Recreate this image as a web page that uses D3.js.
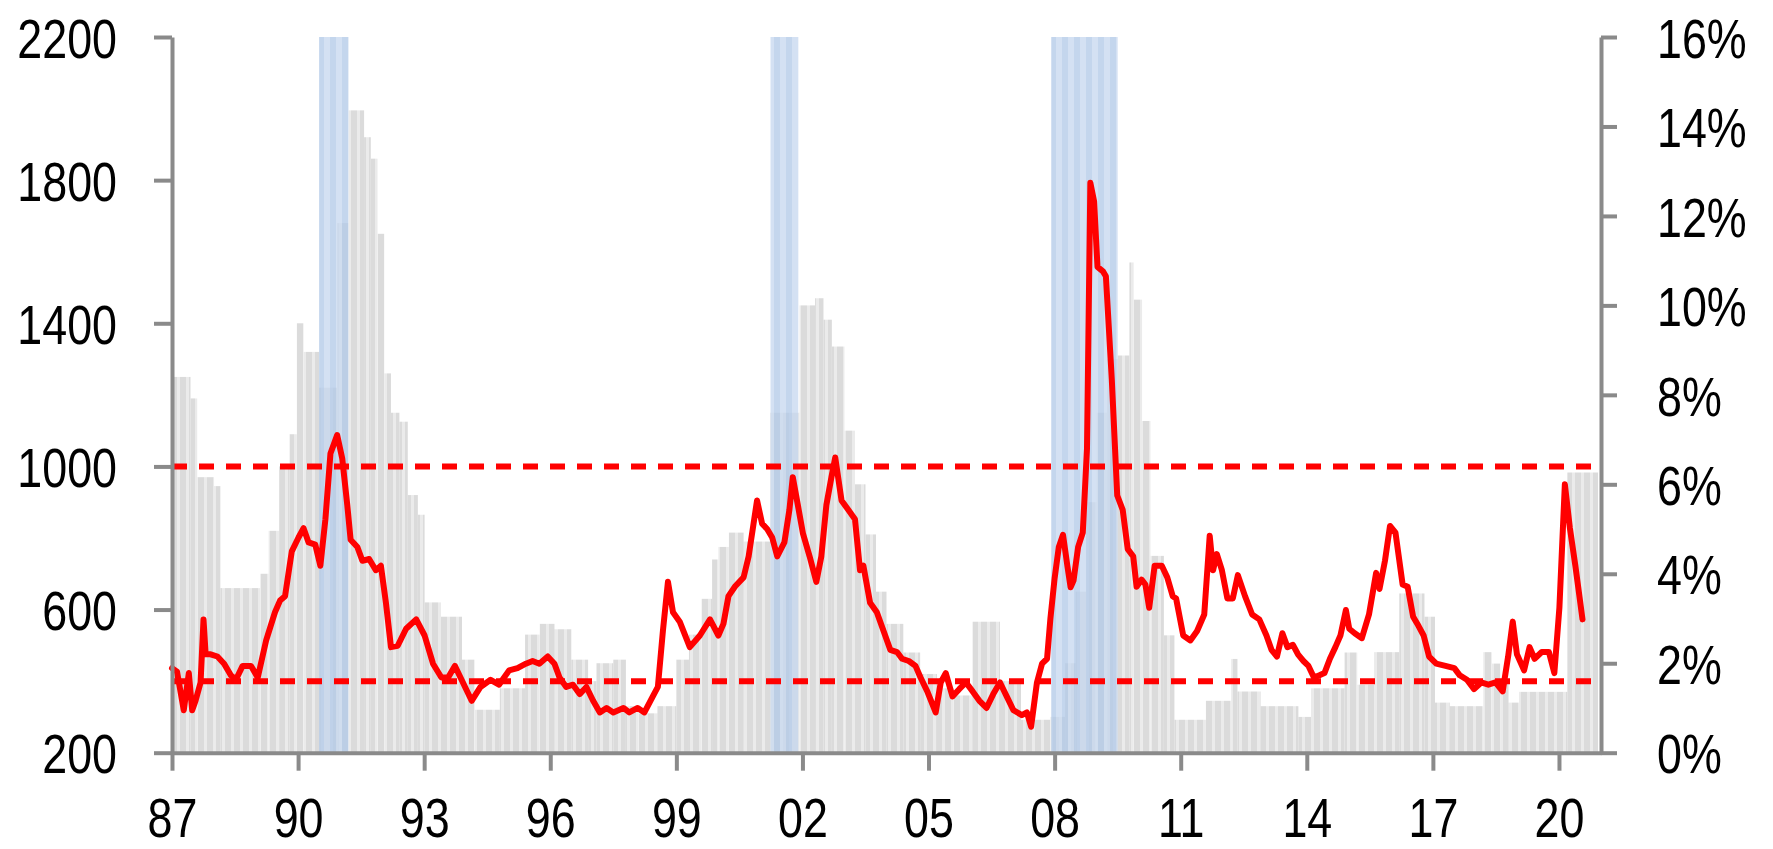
<!DOCTYPE html>
<html><head><meta charset="utf-8">
<script src="https://cdnjs.cloudflare.com/ajax/libs/d3/7.8.5/d3.min.js"></script>
<style>body{margin:0;background:#fff;overflow:hidden}</style>
</head><body><svg id="chart" width="1773" height="849"></svg>
<script>
// ---------- DATA ----------
const xTickYears = [1987,1990,1993,1996,1999,2002,2005,2008,2011,2014,2017,2020];
const xTickLabels = ["87","90","93","96","99","02","05","08","11","14","17","20"];
const leftTicks = [200,600,1000,1400,1800,2200];
const rightTicks = [0,2,4,6,8,10,12,14,16];
const rightTickLabels = ["0%","2%","4%","6%","8%","10%","12%","14%","16%"];
const thresholdLevels = [1000, 400];          // dashed lines, left-axis units
const recessionStarts = [1990.50, 2001.24, 2007.92];
const recessionEnds   = [1991.20, 2001.90, 2009.50];

// grey bars (left axis): step start dates and values
const barStarts = [1987.00,1987.44,1987.60,1988.00,1988.15,1989.10,1989.30,1989.55,1989.80,
  1989.97,1990.13,1990.50,1990.93,1991.20,1991.57,1991.73,1991.89,1992.05,1992.21,
  1992.41,1992.61,1992.85,1993.01,1993.40,1993.90,1994.20,1994.80,1995.40,1995.75,
  1996.10,1996.50,1996.90,1997.10,1997.50,1997.80,1998.10,1998.55,1999.00,1999.30,
  1999.60,1999.85,2000.00,2000.25,2000.60,2001.24,2001.93,2002.30,2002.50,2002.70,
  2003.00,2003.25,2003.50,2003.75,2004.00,2004.40,2004.80,2005.20,2005.60,2006.05,
  2006.70,2007.20,2007.90,2008.25,2008.50,2008.75,2009.00,2009.25,2009.50,2009.78,
  2009.88,2010.08,2010.28,2010.60,2010.85,2011.60,2012.20,2012.35,2012.90,2013.80,
  2014.10,2014.90,2015.20,2015.60,2016.20,2016.80,2017.05,2017.40,2018.20,2018.40,
  2018.60,2018.80,2019.05,2020.20];
const barValues = [1250,1190,970,945,660,700,820,1000,1090,
  1400,1320,1220,1680,1995,1920,1860,1650,1260,1150,
  1125,920,865,620,580,460,320,380,530,560,
  545,460,400,450,460,330,310,330,460,530,
  630,740,775,815,790,1150,1450,1470,1410,1335,
  1100,950,810,650,560,480,420,380,360,566,
  400,292,300,450,650,900,1150,1300,1310,1570,
  1466,1127,750,528,292,345,462,371,330,300,
  380,480,390,481,645,580,340,330,481,449,
  397,340,370,983];
const barEnd = 2020.93;

// red line (right axis, %)
const lineYears = [1987.00,1987.12,1987.28,1987.40,1987.48,1987.56,1987.68,1987.75,1987.80,1987.92,
  1988.08,1988.24,1988.40,1988.52,1988.68,1988.88,1989.04,1989.24,1989.45,1989.57,
  1989.69,1989.85,1990.01,1990.13,1990.25,1990.41,1990.53,1990.65,1990.77,1990.93,
  1991.05,1991.17,1991.25,1991.41,1991.53,1991.69,1991.85,1991.97,1992.09,1992.21,
  1992.37,1992.57,1992.81,1993.01,1993.21,1993.41,1993.57,1993.73,1993.89,1994.13,
  1994.34,1994.58,1994.78,1995.02,1995.22,1995.42,1995.58,1995.74,1995.94,1996.10,
  1996.22,1996.38,1996.54,1996.70,1996.86,1997.02,1997.18,1997.34,1997.50,1997.74,
  1997.88,1998.08,1998.24,1998.44,1998.56,1998.68,1998.80,1998.92,1999.08,1999.32,
  1999.56,1999.80,2000.00,2000.12,2000.24,2000.40,2000.60,2000.72,2000.92,2001.04,
  2001.16,2001.28,2001.40,2001.57,2001.69,2001.77,2001.89,2002.01,2002.17,2002.33,
  2002.45,2002.57,2002.69,2002.78,2002.93,2003.09,2003.25,2003.37,2003.45,2003.61,
  2003.77,2003.93,2004.09,2004.25,2004.37,2004.53,2004.69,2004.81,2004.97,2005.17,
  2005.29,2005.41,2005.57,2005.73,2005.89,2006.05,2006.21,2006.38,2006.54,2006.70,
  2006.86,2007.02,2007.22,2007.34,2007.44,2007.58,2007.70,2007.82,2007.90,2008.00,
  2008.10,2008.20,2008.30,2008.38,2008.45,2008.56,2008.67,2008.77,2008.85,2008.94,
  2009.02,2009.15,2009.22,2009.36,2009.49,2009.62,2009.74,2009.87,2009.95,2010.07,
  2010.16,2010.25,2010.38,2010.55,2010.68,2010.81,2010.89,2011.06,2011.23,2011.39,
  2011.56,2011.69,2011.77,2011.86,2011.98,2012.11,2012.24,2012.36,2012.53,2012.70,
  2012.87,2013.04,2013.16,2013.29,2013.42,2013.54,2013.67,2013.79,2013.92,2014.04,
  2014.17,2014.30,2014.42,2014.55,2014.68,2014.80,2014.93,2015.01,2015.14,2015.31,
  2015.48,2015.65,2015.73,2015.86,2015.98,2016.11,2016.28,2016.40,2016.53,2016.66,
  2016.78,2016.91,2017.08,2017.30,2017.51,2017.64,2017.81,2017.98,2018.15,2018.32,
  2018.49,2018.66,2018.79,2018.90,2019.00,2019.17,2019.30,2019.42,2019.59,2019.76,
  2019.89,2020.01,2020.14,2020.26,2020.39,2020.56];
const lineRates = [1.89,1.81,0.95,1.78,0.95,1.16,1.57,2.98,2.20,2.20,
  2.15,1.99,1.73,1.63,1.94,1.94,1.68,2.51,3.14,3.40,
  3.50,4.50,4.81,5.02,4.70,4.65,4.18,5.22,6.69,7.10,
  6.58,5.54,4.76,4.60,4.29,4.33,4.08,4.18,3.35,2.36,
  2.39,2.77,2.98,2.62,1.99,1.68,1.68,1.94,1.63,1.16,
  1.47,1.63,1.52,1.84,1.89,1.99,2.05,1.99,2.15,1.99,
  1.68,1.47,1.52,1.31,1.47,1.16,0.90,1.00,0.90,1.00,
  0.90,1.00,0.90,1.26,1.47,2.72,3.82,3.14,2.93,2.36,
  2.62,2.98,2.62,2.88,3.50,3.72,3.92,4.39,5.64,5.12,
  5.00,4.81,4.39,4.70,5.43,6.16,5.54,4.91,4.39,3.82,
  4.39,5.54,6.16,6.60,5.64,5.43,5.22,4.08,4.18,3.35,
  3.14,2.72,2.30,2.25,2.10,2.05,1.94,1.68,1.37,0.90,
  1.57,1.78,1.26,1.42,1.57,1.37,1.16,1.00,1.31,1.57,
  1.26,0.95,0.84,0.90,0.58,1.57,1.99,2.10,3.00,3.90,
  4.60,4.87,4.20,3.70,3.85,4.60,4.92,6.79,12.74,12.32,
  10.86,10.76,10.65,8.35,5.75,5.43,4.55,4.39,3.71,3.87,
  3.76,3.24,4.18,4.18,3.92,3.50,3.45,2.62,2.51,2.72,
  3.09,4.85,4.08,4.44,4.08,3.45,3.45,3.97,3.50,3.09,
  2.98,2.62,2.30,2.15,2.67,2.36,2.41,2.20,2.05,1.94,
  1.68,1.73,1.78,2.10,2.36,2.62,3.19,2.77,2.67,2.56,
  3.09,4.02,3.66,4.29,5.07,4.92,3.76,3.71,3.04,2.83,
  2.62,2.15,1.99,1.94,1.89,1.73,1.63,1.42,1.57,1.52,
  1.57,1.37,2.15,2.93,2.20,1.84,2.36,2.10,2.25,2.25,
  1.78,3.24,6.00,5.02,4.18,2.98];

// ---------- CHART ----------
const svg = d3.select("#chart");
const X0 = 172, X1 = 1601, YTOP = 37, YBOT = 752.7;
const x = d3.scaleLinear().domain([1987, 2021]).range([X0, X1]);
const yL = d3.scaleLinear().domain([200, 2200]).range([YBOT, YTOP]);
const yR = d3.scaleLinear().domain([0, 16]).range([YBOT, YTOP]);

const defs = svg.append("defs");
const gp = defs.append("pattern").attr("id","greyStripe").attr("patternUnits","userSpaceOnUse")
  .attr("width",9).attr("height",10);
gp.append("rect").attr("width",9).attr("height",10).attr("fill","#ebebeb");
gp.append("rect").attr("width",6).attr("height",10).attr("fill","#dbdbdb");
const bp = defs.append("pattern").attr("id","blueStripe").attr("patternUnits","userSpaceOnUse")
  .attr("width",12).attr("height",10);
bp.append("rect").attr("width",12).attr("height",10).attr("fill","#c8d9ef");
bp.append("rect").attr("x",6).attr("width",6).attr("height",10).attr("fill","#b3cae8");

// grey bars
const bars = barStarts.map((s,i)=>({s, e: i<barStarts.length-1 ? barStarts[i+1] : barEnd, v: barValues[i]}));
svg.append("g").selectAll("rect").data(bars).join("rect")
  .attr("x", d=>x(d.s)).attr("width", d=>x(d.e)-x(d.s))
  .attr("y", d=>yL(d.v)).attr("height", d=>yL(200)-yL(d.v))
  .attr("fill","url(#greyStripe)");

// recession bands
const rec = recessionStarts.map((s,i)=>({s, e: recessionEnds[i]}));
svg.append("g").selectAll("rect").data(rec).join("rect")
  .attr("x", d=>x(d.s)).attr("width", d=>x(d.e)-x(d.s))
  .attr("y", yL(2200)).attr("height", yL(200)-yL(2200))
  .attr("fill","url(#blueStripe)").attr("opacity",0.78);

// dashed threshold lines
svg.append("g").selectAll("line").data(thresholdLevels).join("line")
  .attr("x1", x(1987)).attr("x2", x(2021))
  .attr("y1", d=>yL(d)).attr("y2", d=>yL(d))
  .attr("stroke","#ff0000").attr("stroke-width",6).attr("stroke-dasharray","15,12");

// red line
const pts = lineYears.map((t,i)=>[t, lineRates[i]]);
svg.append("path").datum(pts)
  .attr("d", d3.line().x(d=>x(d[0])).y(d=>yR(d[1])))
  .attr("fill","none").attr("stroke","#ff0000").attr("stroke-width",6)
  .attr("stroke-linejoin","round").attr("stroke-linecap","round");

// axes
const axisColor = "#8a8a8a";
function styleAxis(g){
  g.selectAll("path.domain").attr("stroke",axisColor).attr("stroke-width",4);
  g.selectAll(".tick line").attr("stroke",axisColor).attr("stroke-width",4);
  g.selectAll("text").attr("fill","#000").style("font-family","'Liberation Sans', Arial, sans-serif")
    .style("font-size","56px");
}
const SX = 0.8;
const gL = svg.append("g").attr("transform",`translate(${X0},0)`)
  .call(d3.axisLeft(yL).tickValues(leftTicks).tickFormat(d3.format("d")).tickSize(18).tickSizeOuter(0));
styleAxis(gL);
gL.selectAll(".tick text").attr("x", -55/SX).attr("dy","0.36em").attr("transform",`scale(${SX},1)`);

const gR = svg.append("g").attr("transform",`translate(${X1},0)`)
  .call(d3.axisRight(yR).tickValues(rightTicks).tickFormat((d,i)=>rightTickLabels[i]).tickSize(16).tickSizeOuter(0));
styleAxis(gR);
gR.selectAll(".tick text").attr("x", 56/SX).attr("dy","0.36em").attr("transform",`scale(${SX},1)`);

const gB = svg.append("g").attr("transform",`translate(0,${YBOT})`)
  .call(d3.axisBottom(x).tickValues(xTickYears).tickFormat((d,i)=>xTickLabels[i]).tickSize(18).tickSizeOuter(0));
styleAxis(gB);
gB.selectAll(".tick text").attr("y", 84).attr("dy","0").attr("x",0)
  .attr("transform",`scale(${SX},1)`);
</script></body></html>
